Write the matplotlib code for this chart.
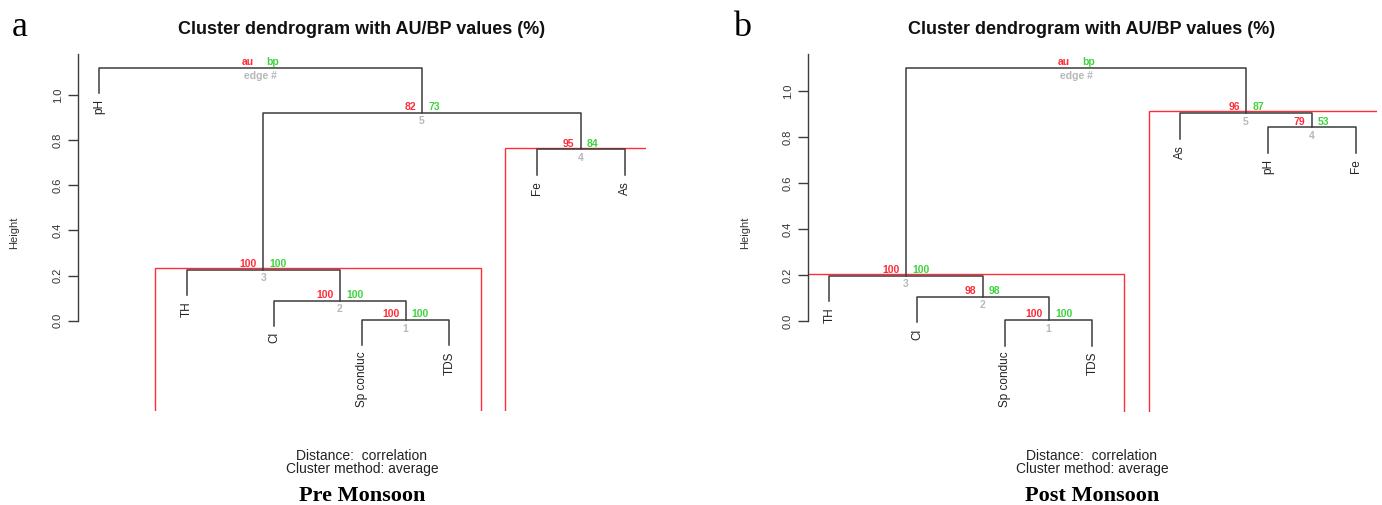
import matplotlib.pyplot as plt
from matplotlib.patches import Rectangle

W, H = 1382, 505
plt.rcParams["font.family"] = ["Liberation Sans", "DejaVu Sans"]

# ---- data ----
pre_labels = ["pH", "TH", "Cl", "Sp conduc", "TDS", "Fe", "As"]
pre_merges = [("Sp conduc", "TDS"), ("Cl", 1), ("TH", 2), ("Fe", "As"), (3, 4), ("pH", 5)]
pre_heights = [0.003, 0.089, 0.225, 0.759, 0.922, 1.121]
pre_au = [100, 100, 100, 95, 82]
pre_bp = [100, 100, 100, 84, 73]
pre_rect = [3, 4]

post_labels = ["TH", "Cl", "Sp conduc", "TDS", "As", "pH", "Fe"]
post_merges = [("Sp conduc", "TDS"), ("Cl", 1), ("TH", 2), ("pH", "Fe"), ("As", 4), (3, 5)]
post_heights = [0.005, 0.106, 0.198, 0.842, 0.903, 1.101]
post_au = [100, 98, 100, 79, 96]
post_bp = [100, 98, 100, 53, 87]
post_rect = [3, 5]

yticks = [0.0, 0.2, 0.4, 0.6, 0.8, 1.0]

LINE = "#3c3c3c"
RED = "#ff2d3a"
GREEN = "#3fd43f"
GREY = "#b8b8b8"


def px(x, y):
    # pixel position -> figure fraction
    return x / W, 1 - y / H


def draw_dendro(ax, labels, merges, heights, au, bp, rects, ylim):
    hang = 0.1 * max(heights)
    node_x, members = {}, {}
    for i, (a, b) in enumerate(merges, start=1):
        h = heights[i - 1]
        xs, ys, mem = [], [], []
        for it in (a, b):
            if isinstance(it, str):
                x = labels.index(it) + 1
                y = h - hang
                mem.append(x)
                ax.annotate(it, (x, y), xytext=(0, -4.5), textcoords="offset points",
                            rotation=90, ha="center", va="top", fontsize=8.5, color="#222222")
            else:
                x, y = node_x[it], heights[it - 1]
                mem.extend(members[it])
            xs.append(x)
            ys.append(y)
        ax.plot([xs[0], xs[0], xs[1], xs[1]], [ys[0], h, h, ys[1]], color=LINE, lw=1.1)
        cx = (xs[0] + xs[1]) / 2
        node_x[i] = cx
        members[i] = mem
        if i < len(merges):
            top_l, top_r, bottom = str(au[i - 1]), str(bp[i - 1]), str(i)
        else:
            top_l, top_r, bottom = "au", "bp", "edge #"
        ax.annotate(top_l, (cx, h), xytext=(-4.5, 2), textcoords="offset points",
                    ha="right", va="baseline", fontsize=7.5, fontweight="bold", color=RED)
        ax.annotate(top_r, (cx, h), xytext=(4.5, 2), textcoords="offset points",
                    ha="left", va="baseline", fontsize=7.5, fontweight="bold", color=GREEN)
        ax.annotate(bottom, (cx, h), xytext=(0, -2.5), textcoords="offset points",
                    ha="center", va="top", fontsize=7.5, fontweight="bold", color=GREY)

    for r in rects:
        lo, hi = min(members[r]), max(members[r])
        ybot = ylim[0] - 0.2
        ax.add_patch(Rectangle((lo - 0.36, ybot), hi - lo + 0.72,
                               heights[r - 1] + 0.008 - ybot,
                               fill=False, ec=RED, lw=1.0, clip_on=True))

    ax.set_xlim(0.76, len(labels) + 0.24)
    ax.set_ylim(*ylim)
    for s in ["top", "right", "bottom"]:
        ax.spines[s].set_visible(False)
    ax.spines["left"].set_bounds(0, ylim[1])
    ax.spines["left"].set_color(LINE)
    ax.spines["left"].set_linewidth(1.0)
    ax.set_xticks([])
    ax.set_yticks(yticks)
    ax.set_yticklabels([f"{t:.1f}" for t in yticks])
    ax.tick_params(axis="y", length=7, width=1.0, color=LINE, pad=4,
                   labelsize=8, labelcolor="#333333", labelrotation=90)
    for lab in ax.get_yticklabels():
        lab.set_verticalalignment("center")


fig = plt.figure(figsize=(W / 100, H / 100), dpi=100)

# left panel: x 78..645.6 px, y 54.4..411 px
ax1 = fig.add_axes([78 / W, 1 - 411 / H, 567.6 / W, 356.6 / H])
draw_dendro(ax1, pre_labels, pre_merges, pre_heights, pre_au, pre_bp, pre_rect, (-0.40, 1.18))
# right panel: x 808.3..1376.7 px, y 54..411.5 px
ax2 = fig.add_axes([808.3 / W, 1 - 411.5 / H, 568.4 / W, 357.5 / H])
draw_dendro(ax2, post_labels, post_merges, post_heights, post_au, post_bp, post_rect, (-0.391, 1.16))

for cx, ylab_x, letter, lx, name in [(362, 14, "a", 12, "Pre Monsoon"),
                                     (1092, 745, "b", 733, "Post Monsoon")]:
    fig.text(*px(cx, 30), "Cluster dendrogram with AU/BP values (%)", ha="center",
             va="center", fontsize=13, fontweight="bold", color="#111111")
    fig.text(*px(ylab_x, 233), "Height", rotation=90, ha="center", va="center",
             fontsize=8, color="#333333")
    fig.text(*px(cx, 455.5), "Distance:  correlation", ha="center", va="center",
             fontsize=10, color="#222222")
    fig.text(*px(cx, 468.5), "Cluster method: average", ha="center", va="center",
             fontsize=10, color="#222222")
    fig.text(*px(cx, 496), name, ha="center", va="center", fontsize=16,
             fontweight="bold", family="Liberation Serif", color="black")
    fig.text(*px(lx, 36), letter, ha="left", va="baseline", fontsize=26,
             family="Liberation Serif", color="black")

fig.savefig("out.png", dpi=100)
